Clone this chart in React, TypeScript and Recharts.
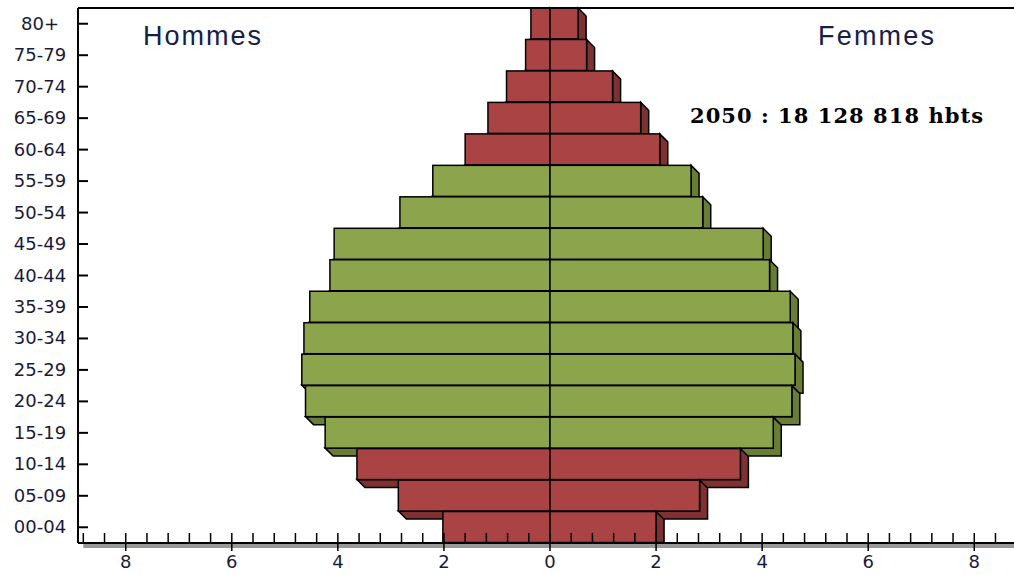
import { Bar, BarChart, XAxis, YAxis } from "recharts";

// Pyramide des âges 2050, en % de la population
const ageGroups = [
  "80+", "75-79", "70-74", "65-69", "60-64", "55-59", "50-54", "45-49", "40-44",
  "35-39", "30-34", "25-29", "20-24", "15-19", "10-14", "05-09", "00-04",
];
const hommes = [
  0.36, 0.46, 0.82, 1.17, 1.6, 2.21, 2.83, 4.07, 4.15,
  4.53, 4.64, 4.68, 4.61, 4.24, 3.64, 2.86, 2.02,
];
const femmes = [
  0.53, 0.69, 1.18, 1.71, 2.07, 2.66, 2.88, 4.02, 4.14,
  4.53, 4.58, 4.62, 4.56, 4.21, 3.59, 2.82, 2.0,
];
// tranches d'âge actives (15-59), en vert
const activeGroups = ["15-19", "20-24", "25-29", "30-34", "35-39", "40-44", "45-49", "50-54", "55-59"];
const majorTicks = [-8, -6, -4, -2, 0, 2, 4, 6, 8];
const minorTicks: number[] = [];
for (let k = -22; k <= 22; k++) minorTicks.push(Math.round(k * 4) / 10);

const data = ageGroups.map((age, i) => ({
  age,
  hommes: -hommes[i],
  femmes: femmes[i],
  active: activeGroups.includes(age),
}));

const RED = "#AA4444";
const RED_DARK = "#7D3131";
const GREEN = "#8CA44C";
const GREEN_DARK = "#6A7D35";
const TEXT = "#1a1a3a";
const DEPTH = 8;

const Block3D = (props: any) => {
  const { x, y, width, height, payload, index } = props;
  const L = Math.min(x, x + width);
  const R = Math.max(x, x + width);
  const T = y;
  const B = y + height;
  const d = DEPTH;
  const last = index === data.length - 1;
  const pts = last
    ? [[R, T], [R + d, T + d], [R + d, B], [R, B]]
    : [[L, B], [L + d, B + d], [R + d, B + d], [R + d, T + d], [R, T], [R, B]];
  return (
    <g>
      <polygon
        points={pts.map((p) => p.join(",")).join(" ")}
        fill={payload.active ? GREEN_DARK : RED_DARK}
        stroke="#000"
        strokeWidth={1.5}
      />
      <rect
        x={L}
        y={T}
        width={R - L}
        height={B - T}
        fill={payload.active ? GREEN : RED}
        stroke="#000"
        strokeWidth={1.5}
      />
    </g>
  );
};

const AgeTick = ({ x, y, payload }: any) => (
  <g>
    <line x1={x} x2={x + 10} y1={y} y2={y} stroke="#000" strokeWidth={2} />
    <text
      x={x - 38}
      y={y}
      dy={6}
      textAnchor="middle"
      fontFamily="DejaVu Sans"
      fontSize={18}
      fill={TEXT}
    >
      {payload.value}
    </text>
  </g>
);

const ValueTick = ({ x, y, payload, index }: any) => {
  const v = payload.value;
  const major = majorTicks.includes(v);
  return (
    <g>
      {index === 0 && <rect x={x} y={y + 1} width={1000} height={4} fill="#999" />}
      <line x1={x} x2={x} y1={y - 10} y2={major ? y + 8 : y} stroke="#000" strokeWidth={1.5} />
      {major && (
        <text
          x={x}
          y={y + 25}
          textAnchor="middle"
          fontFamily="DejaVu Sans"
          fontSize={18}
          fill={TEXT}
        >
          {Math.abs(v)}
        </text>
      )}
    </g>
  );
};

export default function App() {
  return (
    <div
      style={{
        position: "absolute",
        left: 0,
        top: 0,
        width: 1014,
        height: 575,
        overflow: "hidden",
        background: "#fff",
      }}
    >
      <BarChart
        width={1022}
        height={575}
        data={data}
        layout="vertical"
        barCategoryGap={0}
        stackOffset="sign"
        margin={{ top: 7, right: 0, bottom: 0, left: 0 }}
      >
        <XAxis
          type="number"
          domain={[-8.9, 8.9]}
          ticks={minorTicks}
          interval={0}
          height={32}
          tickSize={0}
          tickMargin={0}
          tickLine={false}
          axisLine={{ stroke: "#000", strokeWidth: 2 }}
          tick={<ValueTick />}
          allowDataOverflow
        />
        <XAxis
          xAxisId="top"
          orientation="top"
          type="number"
          domain={[-8.9, 8.9]}
          height={1}
          tick={false}
          tickLine={false}
          axisLine={{ stroke: "#000", strokeWidth: 2 }}
        />
        <YAxis
          type="category"
          dataKey="age"
          width={78}
          interval={0}
          tickSize={0}
          tickMargin={0}
          tickLine={false}
          axisLine={{ stroke: "#000", strokeWidth: 2 }}
          tick={<AgeTick />}
        />
        <Bar dataKey="hommes" stackId="p" shape={<Block3D />} isAnimationActive={false} />
        <Bar dataKey="femmes" stackId="p" shape={<Block3D />} isAnimationActive={false} />
      </BarChart>
      <svg
        width={1014}
        height={575}
        style={{ position: "absolute", left: 0, top: 0, pointerEvents: "none" }}
      >
        <text x={202} y={45} textAnchor="middle" fontFamily="Liberation Sans" fontSize={27} fill="#15204a" textLength={118}>
          Hommes
        </text>
        <text x={876} y={45} textAnchor="middle" fontFamily="Liberation Sans" fontSize={27} fill="#15204a" textLength={116}>
          Femmes
        </text>
        <text x={690} y={123} fontFamily="DejaVu Serif" fontWeight="bold" fontSize={21} fill="#000" textLength={293}>
          2050 : 18 128 818 hbts
        </text>
      </svg>
    </div>
  );
}
